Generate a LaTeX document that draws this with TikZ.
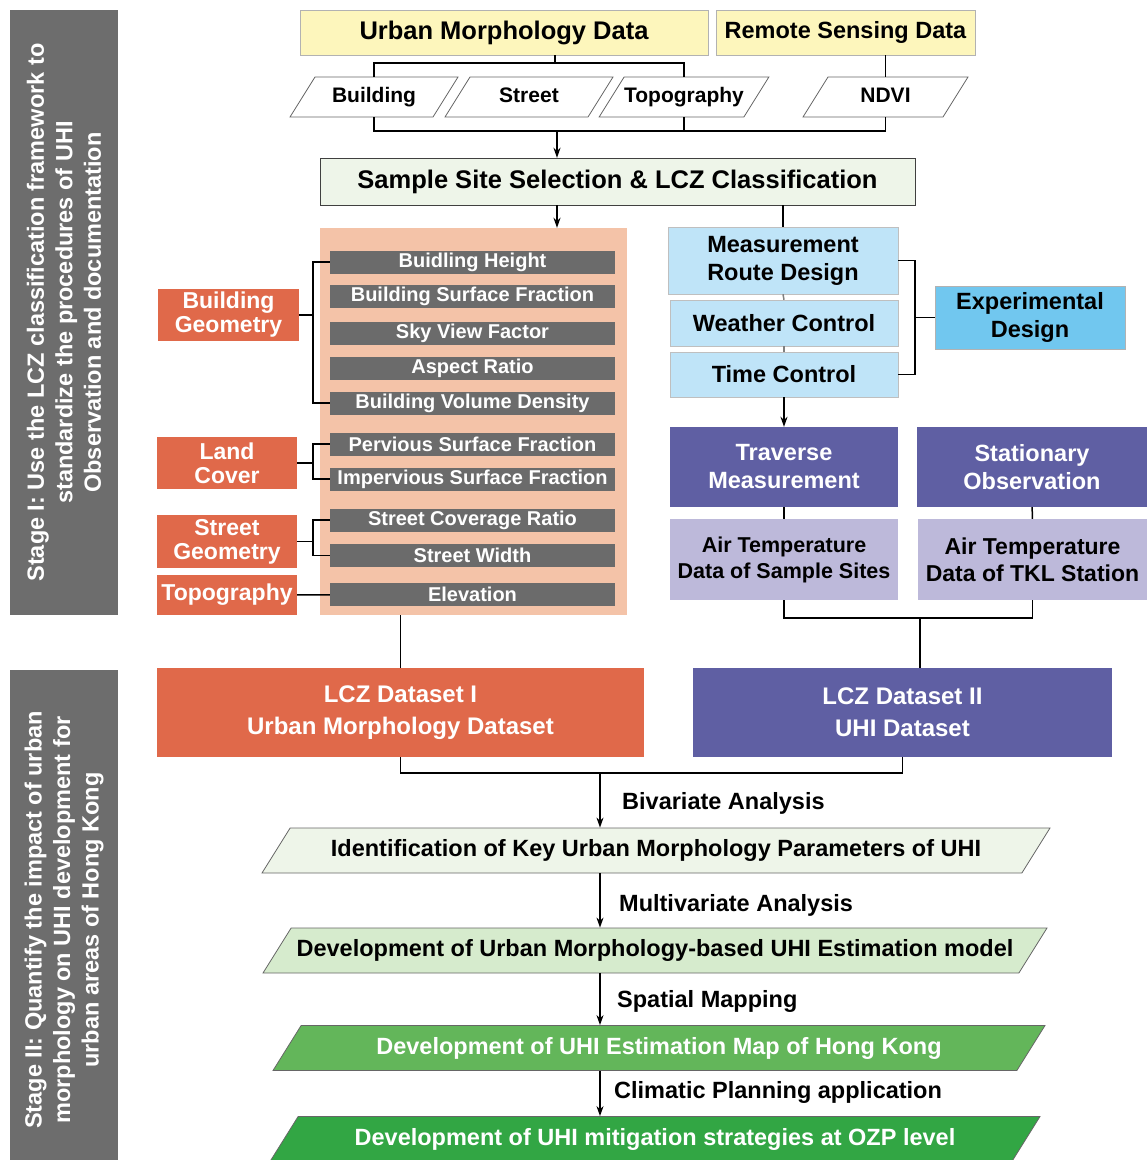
\documentclass[tikz,border=0pt]{standalone}
\usepackage{fontspec}
\setmainfont{Liberation Sans}
\usepackage{tikz}
\usetikzlibrary{shapes.geometric,arrows.meta}

\definecolor{ylw}{HTML}{FDF6BC}
\definecolor{pale}{HTML}{EEF5E9}
\definecolor{salm}{HTML}{F4C3A8}
\definecolor{barg}{HTML}{6B6B6B}
\definecolor{orng}{HTML}{E0694A}
\definecolor{lblu}{HTML}{BFE4F8}
\definecolor{expb}{HTML}{71C7EF}
\definecolor{purp}{HTML}{5F5FA3}
\definecolor{lavd}{HTML}{BDB9DA}
\definecolor{lgrn}{HTML}{D6EBCD}
\definecolor{mgrn}{HTML}{63B65A}
\definecolor{dgrn}{HTML}{32A644}
\definecolor{stg}{HTML}{6D6D6D}

\begin{document}
\begin{tikzpicture}[x=1pt,y=-1pt,
  txt/.style={inner sep=0pt,align=center,font=\bfseries\fontsize{23.5}{28}\selectfont},
  hdr/.style={txt,draw=gray!60,fill=ylw,minimum height=45},
  para/.style={txt,trapezium,trapezium left angle=58,trapezium right angle=122,trapezium stretches body,draw=gray!80!black,line width=0.8pt,text height=17pt,text depth=5pt,inner ysep=11.5pt},
  small/.style={text height=16pt,text depth=5pt,inner ysep=9.5pt,font=\bfseries\fontsize{21}{24}\selectfont},
  bar/.style={txt,fill=barg,text=white,minimum width=285,minimum height=23,font=\bfseries\fontsize{20}{24}\selectfont},
  grp/.style={txt,fill=orng,text=white,minimum width=140,minimum height=52,font=\bfseries\fontsize{23}{24}\selectfont},
  ctl/.style={txt,draw=gray!50,fill=lblu,minimum width=228},
  meas/.style={txt,fill=purp,text=white,minimum width=228,minimum height=80},
  dat/.style={txt,fill=lavd,minimum width=228,minimum height=81,font=\bfseries\fontsize{21.5}{26}\selectfont},
  stage/.style={txt,fill=stg,text=white,rotate=90,minimum height=108,font=\bfseries\fontsize{23.5}{28.5}\selectfont},
  note/.style={txt,anchor=west},
  ln/.style={line width=1.5pt},
  arr/.style={ln,-{Stealth[length=10pt,width=7pt]}}]
\clip (0,0) rectangle (1147,1160);

% stages
\node[stage,minimum width=605] (s1) at (64,312.5) {Stage I: Use the LCZ classification framework to\\standardize the procedures of UHI\\Observation and documentation};
\node[stage,minimum width=500] (s2) at (64,920) {Stage II: Quantify the impact of urban\\morphology on UHI development for\\urban areas of Hong Kong};

% data sources
\node[hdr,minimum width=408,font=\bfseries\fontsize{25.5}{28}\selectfont] (umd) at (504,32.5) {Urban Morphology Data};
\node[hdr,minimum width=259] (rsd) at (845.5,32.5) {Remote Sensing Data};
\node[para,small,minimum width=168] (bld) at (374,97) {Building};
\node[para,small,minimum width=168] (str) at (529,97) {Street};
\node[para,small,minimum width=168] (topo) at (684,97) {Topography};
\node[para,small,minimum width=165] (ndvi) at (885.5,97) {NDVI};
\coordinate (j1) at (555,63);
\coordinate (j2) at (557,131);
\node[txt,draw=black!75,fill=pale,minimum width=595,minimum height=47,font=\bfseries\fontsize{25.5}{28}\selectfont] (site) at (617.5,181.5) {Sample Site Selection \& LCZ Classification};

% urban morphology parameters
\node[fill=salm,minimum width=307,minimum height=387,inner sep=0pt] (pnl) at (473.5,421.5) {};
\node[bar] (bh) at (472.5,262) {Buidling Height};
\node[bar] (bsf) at (472.5,296.5) {Building Surface Fraction};
\node[bar] (svf) at (472.5,333.5) {Sky View Factor};
\node[bar] (ar) at (472.5,368) {Aspect Ratio};
\node[bar] (bvd) at (472.5,403) {Building Volume Density};
\node[bar] (psf) at (472.5,444) {Pervious Surface Fraction};
\node[bar] (isf) at (472.5,479) {Impervious Surface Fraction};
\node[bar] (scr) at (472.5,520) {Street Coverage Ratio};
\node[bar] (sw) at (472.5,555.5) {Street Width};
\node[bar] (elv) at (472.5,594.5) {Elevation};
\node[grp,minimum width=141] (bg) at (228.5,315) {Building\\Geometry};
\node[grp] (lc) at (227,463) {Land\\Cover};
\node[grp,minimum height=53] (sg) at (227,541.5) {Street\\Geometry};
\node[grp,minimum height=40] (tpg) at (227,595) {Topography};

% measurement
\node[ctl,minimum width=230,minimum height=67] (mrd) at (783,260.5) {Measurement\\Route Design};
\node[ctl,minimum height=46] (wc) at (784,323) {Weather Control};
\node[ctl,minimum height=45] (tc) at (784,374.5) {Time Control};
\node[txt,draw=gray!60,fill=expb,minimum width=190,minimum height=63] (exp) at (1030,317.5) {Experimental\\Design};
\node[meas] (trav) at (784,467) {Traverse\\Measurement};
\node[meas,minimum width=230] (stat) at (1032,467) {Stationary\\Observation};
\node[dat] (air1) at (784,559.5) {Air Temperature\\Data of Sample Sites};
\node[dat,minimum width=229,font=\bfseries\fontsize{23}{27}\selectfont] (air2) at (1032.5,559.5) {Air Temperature\\Data of TKL Station};
\coordinate (j3) at (920,618);

% datasets
\node[txt,fill=orng,text=white,minimum width=487,minimum height=89,font=\bfseries\fontsize{24}{32}\selectfont] (lcz1) at (400.5,712.5) {LCZ Dataset I\\Urban Morphology Dataset};
\node[txt,fill=purp,text=white,minimum width=419,minimum height=89,font=\bfseries\fontsize{24}{32}\selectfont] (lcz2) at (902.5,712.5) {LCZ Dataset II\\UHI Dataset};
\coordinate (j4) at (600,773);

% stage II chain
\node[para,fill=pale,minimum width=788] (idf) at (656,850.5) {Identification of Key Urban Morphology Parameters of UHI};
\node[para,fill=lgrn,minimum width=784] (dev) at (655,950.5) {Development of Urban Morphology-based UHI Estimation model};
\node[para,fill=mgrn,text=white,minimum width=772] (map) at (659,1048) {Development of UHI Estimation Map of Hong Kong};
\node[para,fill=dgrn,text=white,minimum width=770] (ozp) at (655,1139) {Development of UHI mitigation strategies at OZP level};
\node[note] (bi) at (622,803) {Bivariate Analysis};
\node[note] (mv) at (619,905) {Multivariate Analysis};
\node[note] (sm) at (617,1001) {Spatial Mapping};
\node[note] (cp) at (614,1092) {Climatic Planning application};

% connectors
\draw[ln] (umd.south -| j1) -- (j1);
\draw[ln] (bld.north) -- (bld.north |- j1) -- (topo.north |- j1) -- (topo.north);
\draw[ln] (rsd.south -| ndvi.north) -- (ndvi.north);
\draw[ln] (bld.south) -- (bld.south |- j2) -- (ndvi.south |- j2) -- (ndvi.south);
\draw[ln] (topo.south) -- (topo.south |- j2);
\draw[arr] (j2) -- (j2 |- site.north);
\draw[arr] (site.south -| j2) -- (j2 |- pnl.north);
\draw[ln] (site.south -| mrd.north) -- (mrd.north);

\draw[ln] (bg.east) -- ++(14,0) coordinate (k1);
\draw[ln] (bh.west) -| (k1) |- (bvd.west);
\draw[ln] (lc.east) -- ++(16,0) coordinate (k2);
\draw[ln] (psf.west) -| (k2) |- (isf.west);
\draw[ln] (sg.east) -- ++(16,0) coordinate (k3);
\draw[ln] (scr.west) -| (k3) |- (sw.west);
\draw[ln] (tpg) -- (elv);

\draw[ln,gray] (mrd.south) -- (wc.north);
\draw[ln,gray] (wc.south) -- (tc.north);
\draw[ln] (mrd.east) -- ++(17,0) coordinate (k4) |- (tc.east);
\draw[ln] (k4 |- exp.west) -- (exp.west);
\draw[arr] (tc.south) -- (trav.north);
\draw[ln] (trav) -- (air1);
\draw[ln] (stat) -- (air2);
\draw[ln] (air1.south) |- (j3) -| (air2.south);
\draw[ln] (j3) -- (j3 |- lcz2.north);

\draw[ln] (lcz1.north |- pnl.south) -- (lcz1.north);
\draw[ln] (lcz1.south) |- (j4) -| (lcz2.south);
\draw[arr] (j4) -- (j4 |- idf.north);
\draw[arr] (idf.south -| j4) -- (j4 |- dev.north);
\draw[arr] (dev.south -| j4) -- (j4 |- map.north);
\draw[arr] (map.south -| j4) -- (j4 |- ozp.north);
\end{tikzpicture}
\end{document}
